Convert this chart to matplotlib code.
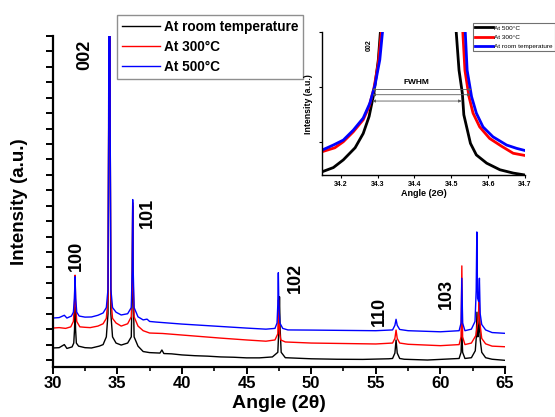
import numpy as np
import matplotlib
matplotlib.use("Agg")
import matplotlib.pyplot as plt

plt.rcParams['font.family'] = ['Liberation Sans', 'DejaVu Sans']
plt.rcParams['font.weight'] = 'bold'

# ---- main pattern: 2theta / intensity (a.u.) ----
rt_x = [30.0, 30.5, 30.9, 31.1, 31.5, 31.63, 31.69, 31.73, 31.77, 31.83, 32.0, 32.5,
        33.0, 33.6, 33.9, 34.15, 34.28, 34.33, 34.36, 34.42, 34.45, 34.5, 34.63, 34.9,
        35.3, 35.8, 36.08, 36.15, 36.19, 36.23, 36.3, 36.6, 37.0, 37.5, 38.3, 38.45,
        38.6, 39.2, 40.0, 41.0, 42.0, 43.0, 44.0, 45.0, 46.0, 47.0, 47.42, 47.5,
        47.55, 47.6, 47.68, 48.0, 50.0, 52.0, 54.0, 56.0, 56.3, 56.48, 56.57, 56.66,
        56.85, 57.2, 59.0, 61.45, 61.6, 61.66, 61.72, 61.9, 62.4, 62.7, 62.78, 62.83,
        62.9, 62.95, 63.02, 63.08, 63.2, 63.5, 64.0, 65.0]
rt_y = [0.78, 0.80, 1.00, 0.75, 0.85, 1.1, 2.0, 3.45, 2.0, 1.1, 0.90, 0.80,
        0.78, 0.90, 1.0, 1.5, 3.0, 15, 40, 40, 15, 3.0, 1.5, 1.1,
        0.97, 1.1, 1.5, 4.5, 10.0, 4.5, 1.5, 0.9, 0.55, 0.48, 0.45, 0.65,
        0.42, 0.40, 0.33, 0.28, 0.25, 0.20, 0.18, 0.14, 0.14, 0.20, 0.5, 2.0,
        4.1, 2.0, 0.5, 0.15, 0.08, 0.05, 0.04, 0.08, 0.1, 0.45, 1.3, 0.45,
        0.1, 0.05, 0.00, 0.1, 0.5, 1.95, 0.5, 0.1, 0.15, 0.6, 1.5, 3.1,
        1.5, 1.8, 3.0, 1.3, 0.5, 0.15, 0.05, -0.02]

t300_x = [30.0, 30.5, 31.0, 31.4, 31.6, 31.68, 31.73, 31.78, 31.86, 32.1, 32.5, 32.9,
          33.5, 33.9, 34.15, 34.28, 34.33, 34.36, 34.42, 34.45, 34.5, 34.63, 34.9, 35.3,
          35.8, 36.08, 36.15, 36.19, 36.23, 36.3, 36.6, 37.0, 37.5, 38.5, 40.0, 41.5,
          43.0, 45.0, 46.5, 47.2, 47.42, 47.47, 47.52, 47.57, 47.65, 48.0, 50.0, 52.5,
          55.0, 56.3, 56.48, 56.57, 56.66, 56.85, 57.5, 60.0, 61.45, 61.6, 61.66, 61.72,
          61.9, 62.4, 62.75, 62.88, 62.95, 63.0, 63.06, 63.2, 63.5, 64.0, 65.0]
t300_y = [2.07, 2.10, 2.05, 2.15, 2.5, 3.6, 5.5, 3.6, 2.5, 2.15, 2.12, 2.1,
          2.2, 2.35, 2.7, 4.0, 15, 40, 40, 15, 4.0, 2.7, 2.4, 2.2,
          2.35, 2.8, 5.0, 10.2, 5.0, 2.8, 2.2, 1.9, 1.75, 1.72, 1.62, 1.52,
          1.42, 1.30, 1.22, 1.3, 1.7, 3.9, 2.6, 1.7, 1.3, 1.17, 1.10, 1.07,
          1.04, 1.1, 1.4, 1.94, 1.4, 1.1, 1.02, 0.93, 1.0, 1.5, 6.1, 1.5,
          1.0, 1.1, 1.6, 2.4, 3.0, 4.15, 2.4, 1.4, 1.05, 0.9, 0.86]

t500_x = [30.0, 30.5, 30.9, 31.1, 31.45, 31.6, 31.68, 31.73, 31.78, 31.86, 32.05, 32.5,
          33.0, 33.5, 33.9, 34.15, 34.28, 34.33, 34.36, 34.42, 34.45, 34.5, 34.63, 34.9,
          35.3, 35.8, 36.08, 36.15, 36.19, 36.23, 36.3, 36.6, 37.0, 37.3, 37.5, 38.0,
          40.0, 42.5, 45.0, 46.5, 47.2, 47.36, 47.42, 47.46, 47.5, 47.58, 47.8, 48.2,
          50.0, 55.0, 56.3, 56.48, 56.57, 56.66, 56.85, 57.5, 60.0, 61.45, 61.6, 61.66,
          61.72, 61.9, 62.4, 62.68, 62.77, 62.82, 62.88, 62.96, 63.02, 63.08, 63.2, 63.5,
          64.0, 65.0]
t500_y = [2.72, 2.75, 2.9, 2.72, 2.85, 3.1, 4.0, 5.4, 4.0, 3.1, 2.85, 2.78,
          2.79, 2.9, 3.05, 3.4, 4.6, 15, 40, 40, 15, 4.6, 3.4, 3.1,
          2.92, 3.0, 3.4, 5.8, 10.4, 5.8, 3.4, 2.8, 2.6, 2.65, 2.5, 2.46,
          2.33, 2.2, 2.07, 2.0, 2.05, 2.4, 3.6, 5.66, 3.6, 2.4, 2.05, 1.95,
          1.94, 1.90, 1.95, 2.25, 2.64, 2.25, 1.98, 1.9, 1.83, 1.9, 2.4, 5.3,
          2.4, 1.9, 2.0, 2.5, 4.5, 8.3, 4.0, 3.8, 5.3, 3.0, 2.3, 1.95,
          1.78, 1.73]

# reflections: (label, x, y)
hkl_labels = ['002', '100', '101', '102', '110', '103']
hkl_x = [32.5, 31.8, 37.3, 48.79, 55.29, 60.44]
hkl_y = [19.77, 6.75, 9.53, 5.35, 3.18, 4.28]

# ---- inset: 002 peak zoom ----
in_500_x = [34.15, 34.18, 34.207, 34.239, 34.261, 34.277, 34.29, 34.302, 34.312,
            34.509, 34.521, 34.53, 34.534, 34.552, 34.568, 34.596, 34.632, 34.668, 34.7]
in_500_y = [0.465, 0.54, 0.68, 0.90, 1.16, 1.47, 1.89, 2.5, 3.4,
            3.4, 2.31, 1.89, 1.5, 0.98, 0.77, 0.62, 0.5, 0.44, 0.405]
in_300_x = [34.15, 34.184, 34.207, 34.234, 34.261, 34.277, 34.29, 34.302, 34.316,
            34.528, 34.537, 34.548, 34.559, 34.577, 34.604, 34.636, 34.668, 34.7]
in_300_y = [0.83, 0.90, 1.01, 1.19, 1.41, 1.65, 1.98, 2.44, 3.4,
            3.4, 2.31, 1.83, 1.53, 1.28, 1.07, 0.93, 0.80, 0.76]
in_rt_x = [34.15, 34.18, 34.207, 34.234, 34.261, 34.279, 34.293, 34.306, 34.319,
           34.535, 34.543, 34.555, 34.568, 34.586, 34.613, 34.65, 34.677, 34.7]
in_rt_y = [0.86, 0.95, 1.04, 1.22, 1.44, 1.71, 2.04, 2.5, 3.4,
           3.4, 2.31, 1.83, 1.53, 1.28, 1.10, 0.95, 0.89, 0.85]
fwhm_y = [1.96, 1.865, 1.75]
fwhm_left = [34.286, 34.286, 34.286]
fwhm_right = [34.556, 34.552, 34.528]

W, H = 555, 417
fig = plt.figure(figsize=(W / 100, H / 100), dpi=100)
ax = fig.add_axes([52.7 / W, 1 - 366.5 / H, (505 - 52.7) / W, (366.5 - 36) / H])

ax.plot(rt_x, rt_y, color='black', lw=1.0, label='At room temperature')
ax.plot(t300_x, t300_y, color='red', lw=1.0, label='At 300°C')
ax.plot(t500_x, t500_y, color='blue', lw=1.0, label='At 500°C')

ax.set_xlim(30, 65)
ax.set_ylim(-0.42, 21.0)
ax.set_xticks(np.arange(30, 66, 5))
ax.set_xticks(np.arange(32.5, 65, 5), minor=True)
ax.set_yticks(np.arange(0, 22, 1))
ax.set_yticklabels([])
for s in ['top', 'right']:
    ax.spines[s].set_visible(False)
for s in ['left', 'bottom']:
    ax.spines[s].set_linewidth(1.6)
ax.tick_params(axis='x', which='major', direction='out', length=5, width=1.4,
               labelsize=12, pad=2)
ax.tick_params(axis='x', which='minor', direction='out', length=3, width=1.2)
ax.tick_params(axis='y', direction='out', length=5, width=1.4)
for t in ax.get_xticklabels():
    t.set_fontweight('bold')

ax.set_xlabel('Angle (2θ)', fontsize=14, fontweight='bold', labelpad=3)
ax.set_ylabel('Intensity (a.u.)', fontsize=13.5, fontweight='bold', labelpad=9)

for lab, x, y in zip(hkl_labels, hkl_x, hkl_y):
    ax.text(x, y, lab, rotation=90, ha='center', va='center', fontsize=13,
            fontweight='bold')

leg = ax.legend(loc='upper left', bbox_to_anchor=(117 / W, 1 - 15 / H),
                bbox_transform=fig.transFigure, borderaxespad=0, fancybox=False,
                frameon=True, edgecolor='0.45', fontsize=9.8, handlelength=2.8,
                handletextpad=0.3, labelspacing=0.45, borderpad=0.35)
leg.get_frame().set_linewidth(1.0)
for t in leg.get_texts():
    t.set_fontweight('bold')

# inset
axi = fig.add_axes([322.3 / W, 1 - 175 / H, (525 - 322.3) / W, (175 - 32.3) / H])
axi.plot(in_500_x, in_500_y, color='black', lw=2, label='At 500°C')
axi.plot(in_300_x, in_300_y, color='red', lw=2, label='At 300°C')
axi.plot(in_rt_x, in_rt_y, color='blue', lw=2, label='At room temperature')
axi.set_xlim(34.15, 34.7)
axi.set_ylim(0.405, 3.0)
axi.set_xticks([34.2, 34.3, 34.4, 34.5, 34.6, 34.7])
axi.set_yticks([1, 2, 3])
axi.set_yticklabels([])
for s in ['top', 'right']:
    axi.spines[s].set_visible(False)
for s in ['left', 'bottom']:
    axi.spines[s].set_linewidth(1.0)
axi.tick_params(axis='both', direction='out', length=2.5, width=0.8, labelsize=5, pad=1.5)
for t in axi.get_xticklabels():
    t.set_fontweight('bold')
axi.set_xlabel('Angle (2Θ)', fontsize=6.5, fontweight='bold', labelpad=1)
axi.set_ylabel('Intensity (a.u.)', fontsize=6.3, fontweight='bold', labelpad=3)
axi.text(34.277, 2.77, '002', rotation=90, ha='center', va='center', fontsize=5,
         fontweight='bold')
axi.text(34.406, 2.09, 'FWHM', ha='center', va='center', fontsize=6,
         fontweight='bold')
for y, xl, xr in zip(fwhm_y, fwhm_left, fwhm_right):
    axi.annotate('', xy=(xl, y), xytext=(xr, y),
                 arrowprops=dict(arrowstyle='<|-|>', color='0.35', lw=0.6,
                                 mutation_scale=4, shrinkA=0, shrinkB=0))

ileg = axi.legend(loc='upper left', bbox_to_anchor=(473.3 / W, 1 - 23.3 / H),
                  bbox_transform=fig.transFigure, borderaxespad=0, fancybox=False,
                  frameon=True, edgecolor='0.3', fontsize=4.6, handlelength=2.8,
                  handletextpad=0.2, labelspacing=0.6, borderpad=0.3)
ileg.get_frame().set_linewidth(0.8)
for t in ileg.get_texts():
    t.set_fontweight('normal')

fig.savefig('out.png', dpi=100)
